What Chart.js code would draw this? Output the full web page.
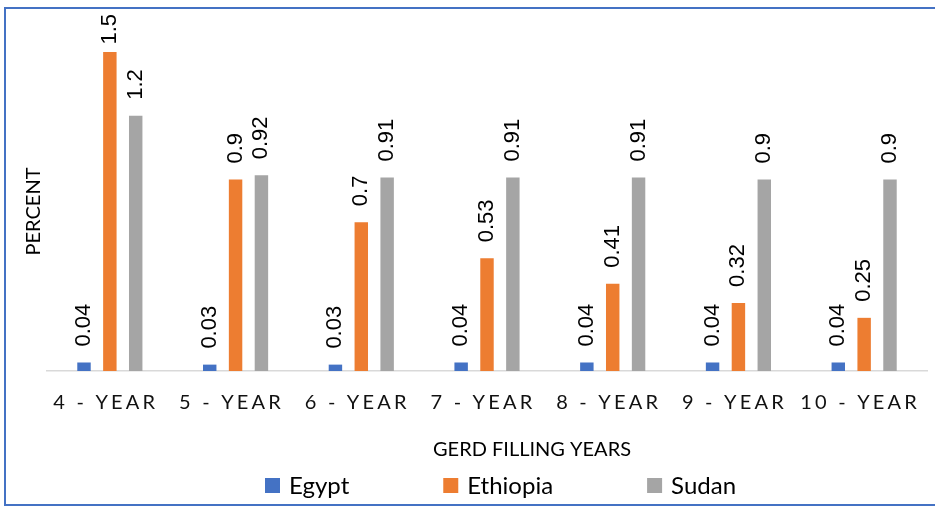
<!DOCTYPE html>
<html>
<head>
<meta charset="utf-8">
<script src="https://cdn.jsdelivr.net/npm/chart.js@4/dist/chart.umd.min.js"></script>
<style>
  html, body { margin: 0; padding: 0; background: #fff; }
  #wrap { width: 935px; height: 507px; position: relative; }
</style>
</head>
<body>
<div id="wrap"><canvas id="gerd"></canvas></div>
<script>
const years = ['4 - YEAR', '5 - YEAR', '6 - YEAR', '7 - YEAR', '8 - YEAR', '9 - YEAR', '10 - YEAR'];
const egypt = [0.04, 0.03, 0.03, 0.04, 0.04, 0.04, 0.04];
const ethiopia = [1.5, 0.9, 0.7, 0.53, 0.41, 0.32, 0.25];
const sudan = [1.2, 0.92, 0.91, 0.91, 0.91, 0.9, 0.9];
const seriesNames = ['Egypt', 'Ethiopia', 'Sudan'];
const seriesColors = ['#4472C4', '#ED7D31', '#A5A5A5'];

// frame, value labels, x title and legend (Excel-style spacing)
const extras = {
  id: 'extras',
  beforeDraw(chart) {
    const ctx = chart.ctx;
    ctx.save();
    ctx.strokeStyle = '#4472C4';
    ctx.lineWidth = 2;
    ctx.strokeRect(5, 8, 960, 497);
    ctx.restore();
  },
  afterDatasetsDraw(chart) {
    const ctx = chart.ctx;
    ctx.save();
    ctx.font = '22px "Liberation Sans", Arial, sans-serif';
    ctx.fillStyle = '#000';
    ctx.textAlign = 'left';
    ctx.textBaseline = 'middle';
    chart.data.datasets.forEach((ds, i) => {
      chart.getDatasetMeta(i).data.forEach((bar, j) => {
        const txt = String(ds.data[j]);
        const w = ctx.measureText(txt).width;
        let start = bar.y - 16;
        if (start - w < 14) start = 14 + w;
        ctx.save();
        ctx.translate(bar.x, start);
        ctx.rotate(-Math.PI / 2);
        ctx.fillText(txt, 0, 0);
        ctx.restore();
      });
    });

    ctx.font = '20px Lato, sans-serif';
    ctx.textAlign = 'center';
    ctx.fillText('GERD FILLING YEARS', 532, 450);

    ctx.font = '24px Lato, sans-serif';
    ctx.textAlign = 'left';
    let x = 265;
    chart.data.datasets.forEach((ds) => {
      ctx.fillStyle = ds.backgroundColor;
      ctx.fillRect(x, 478, 15, 15);
      ctx.fillStyle = '#000';
      ctx.fillText(ds.label, x + 24, 486);
      x += 24 + ctx.measureText(ds.label).width + 94;
    });
    ctx.restore();
    ctx.letterSpacing = '3.2px'; // tick labels are drawn after this (ticks.z = 1)
  },
  afterDraw(chart) {
    chart.ctx.letterSpacing = '0px';
  }
};

new Chart(document.getElementById('gerd'), {
  type: 'bar',
  data: {
    labels: years,
    datasets: seriesNames.map((name, i) => ({
      label: name,
      data: [egypt, ethiopia, sudan][i],
      backgroundColor: seriesColors[i],
      categoryPercentage: 0.617,
      barPercentage: 0.52
    }))
  },
  options: {
    responsive: true,
    maintainAspectRatio: false,
    animation: false,
    layout: { padding: { top: 52, right: 8, bottom: 72, left: 22 } },
    plugins: {
      legend: { display: false },
      tooltip: { enabled: false }
    },
    scales: {
      x: {
        grid: { display: false, drawTicks: false },
        border: { color: '#D9D9D9', width: 1.5 },
        ticks: {
          color: '#111',
          font: { family: 'Lato', size: 20 },
          padding: 20,
          z: 1,
          labelOffset: -4,
          maxRotation: 0,
          autoSkip: false
        }
      },
      y: {
        min: 0,
        max: 1.5,
        ticks: { display: false },
        grid: { display: false, drawTicks: false },
        border: { display: false },
        title: {
          display: true,
          text: 'PERCENT',
          color: '#000',
          font: { family: 'Lato', size: 20 },
          padding: { top: 0, bottom: 1 }
        }
      }
    }
  },
  plugins: [extras]
});
</script>
</body>
</html>
